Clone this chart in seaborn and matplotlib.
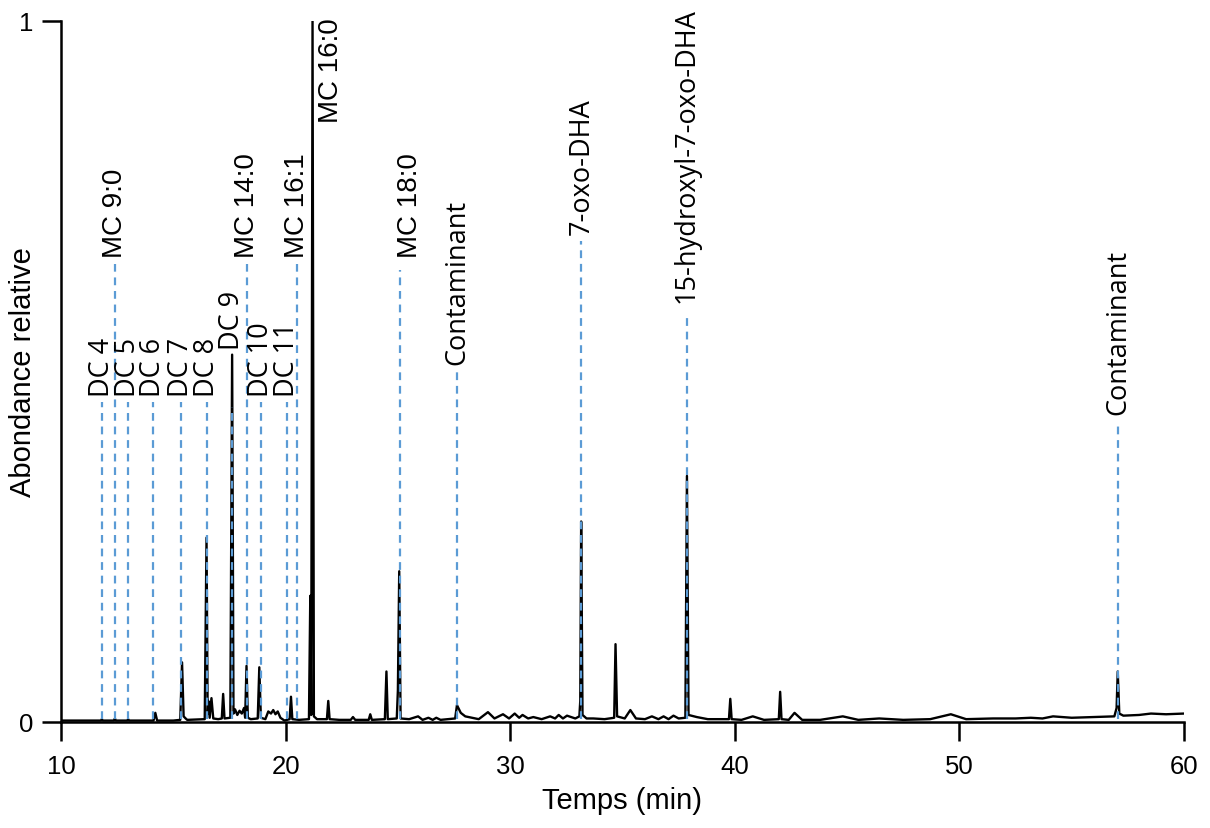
import matplotlib
matplotlib.use("Agg")
import matplotlib.pyplot as plt
import seaborn as sns
import pandas as pd

# chromatogramme (temps en min, abondance relative)
trace_time = [
    10.0, 11.0, 11.78, 11.82, 11.86, 12.36, 12.40, 12.44, 12.95, 12.99, 13.03,
    14.12, 14.2, 14.28, 15.0, 15.31, 15.39, 15.46, 15.55, 15.62,
    16.40, 16.48, 16.53, 16.56, 16.62, 16.70, 16.78, 17.0, 17.16, 17.22, 17.28,
    17.54, 17.62, 17.68, 17.75, 17.85, 17.95, 18.05, 18.15, 18.20, 18.26, 18.32,
    18.45, 18.76, 18.83, 18.90, 19.1, 19.23, 19.35, 19.45, 19.55, 19.65, 19.77,
    19.95, 20.18, 20.24, 20.30, 20.6, 21.04, 21.10, 21.14, 21.20, 21.26, 21.4,
    21.84, 21.90, 21.96, 22.4, 22.9, 23.0, 23.1, 23.70, 23.77, 23.84,
    24.42, 24.49, 24.55, 24.95, 25.0, 25.06, 25.12, 25.5, 25.9, 26.1, 26.36,
    26.55, 26.71, 26.9, 27.55, 27.63, 27.8, 28.0, 28.3, 28.6, 29.01, 29.3,
    29.68, 29.95, 30.2, 30.4, 30.55, 30.8, 31.03, 31.4, 31.78, 32.0, 32.16,
    32.35, 32.53, 32.9, 33.08, 33.12, 33.16, 33.22, 33.4, 33.7, 34.2,
    34.63, 34.69, 34.76, 35.1, 35.35, 35.6, 36.0, 36.31, 36.6, 36.83, 37.05,
    37.27, 37.5, 37.80, 37.87, 37.94, 38.31, 38.8, 39.74, 39.80, 39.86,
    40.3, 40.8, 41.3, 41.96, 42.02, 42.08, 42.4, 42.66, 43.0, 43.8, 44.81,
    45.5, 46.43, 47.5, 48.7, 49.62, 50.3, 51.5, 52.5, 53.18, 53.7, 54.17,
    55.0, 56.0, 56.9, 57.0, 57.05, 57.12, 57.3, 58.0, 58.53, 59.2, 60.0,
]
trace_abund = [
    0.002, 0.002, 0.002, 0.004, 0.002, 0.002, 0.005, 0.002, 0.002, 0.004, 0.002,
    0.002, 0.013, 0.002, 0.002, 0.003, 0.085, 0.008, 0.005, 0.003,
    0.004, 0.263, 0.012, 0.030, 0.006, 0.034, 0.005, 0.004, 0.005, 0.040, 0.005,
    0.006, 0.524, 0.012, 0.018, 0.010, 0.016, 0.012, 0.020, 0.006, 0.080, 0.006,
    0.004, 0.005, 0.078, 0.006, 0.004, 0.015, 0.012, 0.017, 0.011, 0.015, 0.006,
    0.002, 0.004, 0.036, 0.004, 0.003, 0.004, 0.180, 0.010, 1.000, 0.008, 0.004,
    0.004, 0.030, 0.004, 0.003, 0.003, 0.007, 0.003, 0.003, 0.011, 0.003,
    0.004, 0.072, 0.004, 0.005, 0.045, 0.215, 0.005, 0.004, 0.008, 0.003, 0.006,
    0.003, 0.006, 0.003, 0.005, 0.024, 0.013, 0.008, 0.006, 0.004, 0.014, 0.005,
    0.011, 0.005, 0.012, 0.006, 0.010, 0.005, 0.007, 0.004, 0.008, 0.005, 0.010,
    0.005, 0.009, 0.005, 0.008, 0.030, 0.286, 0.010, 0.005, 0.005, 0.004,
    0.006, 0.111, 0.008, 0.005, 0.017, 0.005, 0.004, 0.008, 0.004, 0.008, 0.004,
    0.009, 0.005, 0.006, 0.351, 0.010, 0.007, 0.004, 0.004, 0.033, 0.004,
    0.003, 0.008, 0.003, 0.004, 0.043, 0.004, 0.003, 0.013, 0.003, 0.003, 0.008,
    0.003, 0.005, 0.003, 0.004, 0.011, 0.004, 0.005, 0.005, 0.006, 0.005, 0.008,
    0.006, 0.007, 0.008, 0.020, 0.072, 0.012, 0.009, 0.010, 0.012, 0.011, 0.012,
]

# pics annotés
peak_names = ["DC 4", "MC 9:0", "DC 5", "DC 6", "DC 7", "DC 8", "DC 9", "MC 14:0",
              "DC 10", "DC 11", "MC 16:1", "MC 16:0", "MC 18:0", "Contaminant",
              "7-oxo-DHA", "15-hydroxyl-7-oxo-DHA", "Contaminant"]
peak_times = [11.82, 12.40, 12.99, 14.11, 15.35, 16.49, 17.62, 18.27,
              18.91, 20.05, 20.52, 21.20, 25.11, 27.65,
              33.17, 37.86, 57.06]
label_heights = [0.465, 0.663, 0.465, 0.465, 0.465, 0.465, 0.532, 0.663,
                 0.465, 0.465, 0.663, 0.856, 0.663, 0.511,
                 0.696, 0.599, 0.44]
dash_tops = [0.456, 0.653, 0.456, 0.456, 0.456, 0.456, 0.45, 0.653,
             0.456, 0.456, 0.653, None, 0.645, 0.504,
             0.686, 0.578, 0.425]

df = pd.DataFrame({"Temps": trace_time, "Abondance": trace_abund})

sns.set_theme(style="ticks")
plt.rcParams["font.family"] = ["Liberation Sans", "DejaVu Sans"]
plt.rcParams["text.color"] = "black"
plt.rcParams["axes.labelcolor"] = "black"
plt.rcParams["xtick.color"] = "black"
plt.rcParams["ytick.color"] = "black"

fig = plt.figure(figsize=(12.1, 8.29), dpi=100)
ax = fig.add_axes([0.0504, 0.1279, 0.9281, 0.8456])

sns.lineplot(data=df, x="Temps", y="Abondance", ax=ax, color="black",
             linewidth=1.7, estimator=None, zorder=2)

blue = "#5B9BD5"
for name, t, h, top in zip(peak_names, peak_times, label_heights, dash_tops):
    if top is not None:
        ax.plot([t, t], [0.004, top], color=blue, linewidth=1.6,
                linestyle=(0, (3.5, 2.6)), zorder=3)
    fam = "Liberation Sans" if name.startswith("MC") else "Open Sans"
    size = 20 if name.startswith("MC") else 19.5
    dx = 0.0
    if name == "MC 16:0":
        dx = 0.8
    elif name == "MC 18:0":
        dx = 0.45
    ax.text(t + dx, h, name, rotation=90, ha="center", va="bottom",
            fontsize=size, family=fam, color="black")

ax.set_xlim(10, 60)
ax.set_ylim(0, 1)
ax.set_xticks([10, 20, 30, 40, 50, 60])
ax.set_yticks([0, 1])
ax.set_yticklabels(["0", "1"])
ax.tick_params(axis="both", direction="out", length=14, width=1.8,
               labelsize=18.5, colors="black")
ax.tick_params(axis="x", pad=9)
ax.tick_params(axis="y", pad=6)
for side in ["top", "right"]:
    ax.spines[side].set_visible(False)
for side in ["left", "bottom"]:
    ax.spines[side].set_linewidth(1.8)
    ax.spines[side].set_color("black")

ax.set_xlabel("Temps (min)", fontsize=21, labelpad=6)
ax.set_ylabel("Abondance relative", fontsize=21)
ax.yaxis.set_label_coords(-0.021, 0.5)

fig.savefig("out.png", dpi=100)
